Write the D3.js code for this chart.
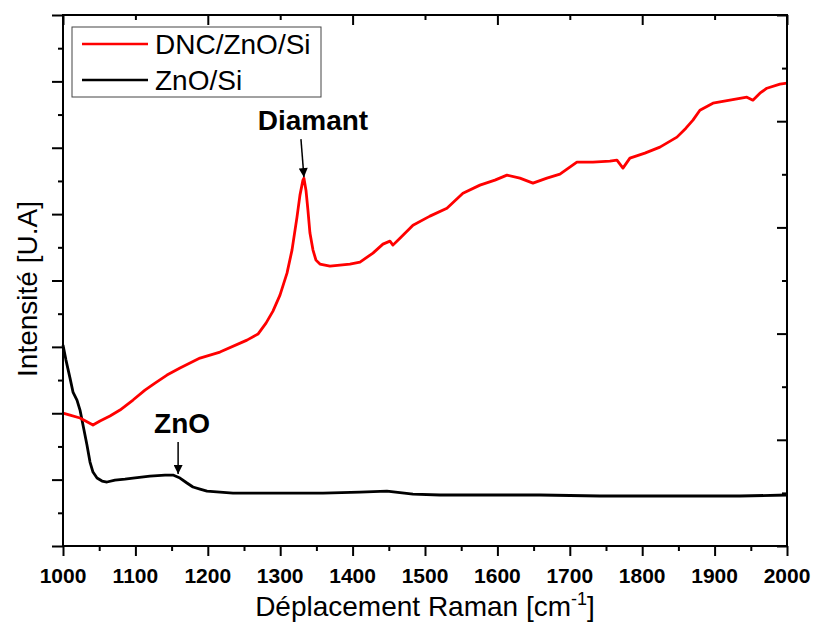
<!DOCTYPE html>
<html>
<head>
<meta charset="utf-8">
<script src="https://cdn.jsdelivr.net/npm/d3@7"></script>
<style>
  body { margin: 0; background: #fff; }
  svg { font-family: "Liberation Sans", Arial, sans-serif; }
</style>
</head>
<body>
<div class="fondo"></div>
<script>
// nombres de onda (cm-1) y intensidades
var wnDNC = [1000, 1009.7, 1023.5, 1041.4, 1051.1, 1064.9, 1078.7, 1096.7, 1113.2, 1127.1,
  1143.6, 1161.6, 1189.2, 1216.8, 1254.1, 1269.3, 1280.4, 1290, 1299.7, 1309.4,
  1316.3, 1323.2, 1327.3, 1331.4, 1332.8, 1335.6, 1338.3, 1341.1, 1345.3, 1349.4,
  1354.9, 1368.7, 1382.5, 1396.3, 1410.2, 1428.1, 1441.9, 1451.6, 1455.7, 1465.4,
  1483.4, 1506.8, 1530.3, 1552.4, 1575.9, 1596.6, 1613.2, 1631.1, 1649.1, 1668.4,
  1686.4, 1709.8, 1731.9, 1755.4, 1765.1, 1773.4, 1783, 1803.7, 1824.5, 1848,
  1860.4, 1870.1, 1879.7, 1897.7, 1921.1, 1944.6, 1952.9, 1962.6, 1972.2, 1990.2, 2000];
var intDNC = [2003, 1973, 1928, 1822, 1883, 1958, 2048, 2199, 2349, 2455,
  2575, 2681, 2831, 2922, 3102, 3193, 3358, 3539, 3780, 4111,
  4458, 4955, 5286, 5512, 5542, 5361, 5060, 4714, 4458, 4307,
  4247, 4217, 4232, 4247, 4277, 4413, 4548, 4593, 4533, 4638,
  4834, 4970, 5090, 5316, 5437, 5512, 5587, 5542, 5467, 5542,
  5602, 5783, 5783, 5798, 5813, 5693, 5843, 5919, 6009, 6160,
  6295, 6416, 6566, 6672, 6717, 6762, 6717, 6822, 6897, 6958, 6973];

var wnZnO = [1000, 1004.1, 1009.7, 1013.8, 1019.3, 1023.5, 1029, 1033.1, 1037.3, 1041.4,
  1047, 1053.9, 1060.8, 1071.8, 1085.6, 1096.7, 1120.1, 1140.9, 1151.9, 1161.6,
  1171.2, 1179.5, 1189.2, 1198.9, 1216.8, 1234.8, 1258.2, 1299.7, 1359.1, 1410.2,
  1447.4, 1483.4, 1520.7, 1603.5, 1658.7, 1741.6, 1810.7, 1879.7, 1935, 2000];
var intZnO = [3027, 2801, 2530, 2319, 2199, 2048, 1747, 1521, 1265, 1114,
  1024, 979, 964, 994, 1009, 1024, 1054, 1069, 1069, 1024,
  949, 889, 858, 828, 813, 798, 798, 798, 798, 813,
  828, 783, 768, 768, 768, 753, 753, 753, 753, 768];

var series = [
  { nombre: 'DNC/ZnO/Si', color: '#ff0000', x: wnDNC, y: intDNC },
  { nombre: 'ZnO/Si', color: '#000000', x: wnZnO, y: intZnO }
];

var picos = [
  { texto: 'Diamant', x: 1332.8, y: 5542, dx: -3 },
  { texto: 'ZnO', x: 1159, y: 1069, dx: 0 }
];

var xTicks = [1000, 1100, 1200, 1300, 1400, 1500, 1600, 1700, 1800, 1900, 2000];

var margen = { left: 63, right: 787, top: 15, bottom: 546 };

var svg = d3.select('.fondo')
  .append('svg')
  .attr('width', 816)
  .attr('height', 622);

var defs = svg.append('defs');
defs.append('marker')
  .attr('id', 'flecha')
  .attr('viewBox', '0 0 10 10')
  .attr('refX', 10)
  .attr('refY', 5)
  .attr('markerWidth', 12)
  .attr('markerHeight', 9)
  .attr('markerUnits', 'userSpaceOnUse')
  .attr('orient', 'auto')
  .append('path')
  .attr('d', 'M0,0 L10,5 L0,10 Z')
  .attr('fill', '#000');

const xScale = d3.scaleLinear()
  .domain([1000, 2000])
  .range([margen.left, margen.right]);

const yScale = d3.scaleLinear()
  .domain([0, 8000])
  .range([margen.bottom, margen.top]);

// ejes: mayores y menores
function ticks(g, eje, valores, largo) {
  g.call(eje.tickValues(valores).tickSize(largo).tickFormat(''))
    .call(s => s.select('.domain').remove())
    .selectAll('line').attr('stroke', '#000').attr('stroke-width', 2);
}

// eje inferior
svg.append('g').attr('transform', 'translate(0,' + margen.bottom + ')')
  .call(g => ticks(g, d3.axisBottom(xScale), d3.range(1050, 2000, 100), 5));
svg.append('g').attr('transform', 'translate(0,' + margen.bottom + ')')
  .call(g => ticks(g, d3.axisBottom(xScale), xTicks, 10));

svg.append('g')
  .selectAll('text')
  .data(xTicks)
  .enter()
  .append('text')
  .attr('x', d => xScale(d))
  .attr('y', 583)
  .attr('text-anchor', 'middle')
  .attr('font-size', 21)
  .attr('font-weight', 'bold')
  .text(d => d);

// eje superior (hacia adentro)
svg.append('g').attr('transform', 'translate(0,' + margen.top + ')')
  .call(g => ticks(g, d3.axisBottom(xScale), d3.range(1100, 2000, 200), 5));
svg.append('g').attr('transform', 'translate(0,' + margen.top + ')')
  .call(g => ticks(g, d3.axisBottom(xScale), d3.range(1000, 2001, 200), 10));

// eje izquierdo (hacia afuera)
svg.append('g').attr('transform', 'translate(' + margen.left + ',0)')
  .call(g => ticks(g, d3.axisLeft(yScale), d3.range(500, 8000, 1000), 5));
svg.append('g').attr('transform', 'translate(' + margen.left + ',0)')
  .call(g => ticks(g, d3.axisLeft(yScale), d3.range(0, 8001, 1000), 11));

// eje derecho (hacia adentro)
svg.append('g').attr('transform', 'translate(' + margen.right + ',0)')
  .call(g => ticks(g, d3.axisLeft(yScale), d3.range(800, 8000, 1600), 5));
svg.append('g').attr('transform', 'translate(' + margen.right + ',0)')
  .call(g => ticks(g, d3.axisLeft(yScale), d3.range(0, 8001, 1600), 10));

// curvas
var linea = d3.line()
  .x(d => xScale(d[0]))
  .y(d => yScale(d[1]));

svg.append('g')
  .selectAll('path')
  .data(series.slice().reverse())
  .enter()
  .append('path')
  .attr('d', s => linea(d3.zip(s.x, s.y)))
  .attr('fill', 'none')
  .attr('stroke', s => s.color)
  .attr('stroke-width', 2.8)
  .attr('stroke-linejoin', 'round');

// marco
svg.append('rect')
  .attr('x', margen.left)
  .attr('y', margen.top)
  .attr('width', margen.right - margen.left)
  .attr('height', margen.bottom - margen.top)
  .attr('fill', 'none')
  .attr('stroke', '#000')
  .attr('stroke-width', 2);

// anotaciones de picos
picos.forEach(function (p) {
  var px = xScale(p.x), py = yScale(p.y);
  var largo = p.texto === 'Diamant' ? 38 : 32;
  svg.append('line')
    .attr('x1', px + p.dx)
    .attr('y1', py - largo - 1)
    .attr('x2', px)
    .attr('y2', py - 1)
    .attr('stroke', '#000')
    .attr('stroke-width', 1.5)
    .attr('marker-end', 'url(#flecha)');
  svg.append('text')
    .attr('x', px + p.dx + (p.texto === 'Diamant' ? 12 : 4))
    .attr('y', py - largo - 10)
    .attr('text-anchor', 'middle')
    .attr('font-size', 28)
    .attr('font-weight', 'bold')
    .text(p.texto);
});

// leyenda
var leyenda = svg.append('g');
leyenda.append('rect')
  .attr('x', 72)
  .attr('y', 27)
  .attr('width', 249)
  .attr('height', 70)
  .attr('fill', '#fff')
  .attr('stroke', '#444')
  .attr('stroke-width', 1);

series.forEach(function (s, i) {
  var yy = 44 + i * 36;
  leyenda.append('line')
    .attr('x1', 82).attr('x2', 148)
    .attr('y1', yy).attr('y2', yy)
    .attr('stroke', s.color)
    .attr('stroke-width', 2.6);
  leyenda.append('text')
    .attr('x', 155)
    .attr('y', yy + 10)
    .attr('font-size', 28)
    .text(s.nombre);
});

// titulos
var tituloX = svg.append('text')
  .attr('x', (margen.left + margen.right) / 2)
  .attr('y', 616)
  .attr('text-anchor', 'middle')
  .attr('font-size', 28);
tituloX.append('tspan').text('Déplacement Raman [cm');
tituloX.append('tspan').attr('dy', -11).attr('font-size', 18).text('-1');
tituloX.append('tspan').attr('dy', 11).text(']');

svg.append('text')
  .attr('transform', 'translate(37,289) rotate(-90)')
  .attr('text-anchor', 'middle')
  .attr('font-size', 28)
  .text('Intensité [U.A]');
</script>
</body>
</html>
